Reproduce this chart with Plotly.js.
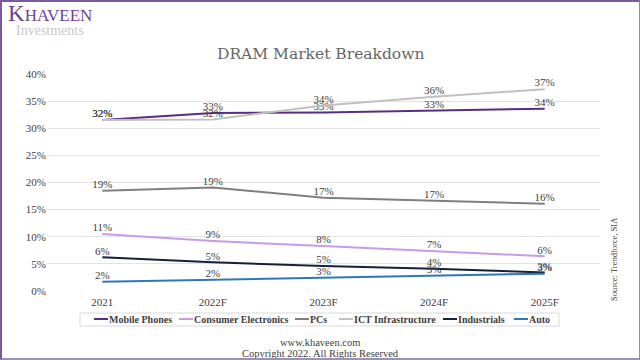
<!DOCTYPE html>
<html><head><meta charset="utf-8">
<script src="https://cdn.plot.ly/plotly-3.0.1.min.js"></script>
<style>
html,body{margin:0;padding:0;background:#fff;}
#wrap{position:relative;width:640px;height:360px;}
#chart{width:640px;height:360px;}
#frame{position:absolute;left:0;top:0;width:640px;height:360px;box-sizing:border-box;border-left:2px solid #7b5a9b;border-top:2px solid #7b5a9b;border-right:1px solid #9a86b0;border-bottom:2px solid #9a8fb5;pointer-events:none;}
</style></head>
<body>
<div id="wrap"><div id="chart"></div><div id="frame"></div></div>
<script>
const years = ["2021", "2022F", "2023F", "2024F", "2025F"];
const mobilePhones = [31.5, 32.8, 32.9, 33.2, 33.6];
const consumerElectronics = [10.5, 9.2, 8.3, 7.4, 6.4];
const pcs = [18.5, 19.1, 17.2, 16.6, 16.1];
const ictInfrastructure = [31.5, 31.6, 34.2, 35.8, 37.2];
const industrials = [6.2, 5.3, 4.6, 4.1, 3.4];
const auto = [1.7, 2.1, 2.5, 2.8, 3.2];
const yTicks = [0, 5, 10, 15, 20, 25, 30, 35, 40];
const seriesNames = ["Mobile Phones", "Consumer Electronics", "PCs", "ICT Infrastructure", "Industrials", "Auto"];
const seriesColors = ["#5a2d82", "#c79be6", "#7f7f7f", "#c0c0c0", "#14213d", "#2e78b7"];
const seriesValues = [mobilePhones, consumerElectronics, pcs, ictInfrastructure, industrials, auto];

const serif = "Liberation Serif, DejaVu Serif, serif";
const traces = seriesNames.map((name, i) => ({
  type: "scatter", mode: "lines+text", name: name, x: years, y: seriesValues[i],
  line: {color: seriesColors[i], width: 2},
  text: seriesValues[i].map(v => Math.round(v) + "%"),
  textposition: "top center",
  textfont: {family: serif, size: 11, color: "#404040"},
  cliponaxis: false, showlegend: false
}));

const W = 640, L = 47, R = 40, T = 74, B = 69;
const pw = W - L - R, ph = 360 - T - B;
const px = x => (x - L) / pw;
const py = y => (360 - B - y) / ph;

// custom legend layout (pixel positions of each entry's line start)
const legendStarts = [94, 179, 295, 339, 443, 514];
const legendY = 319;
const shapes = [
  {type: "rect", xref: "paper", yref: "paper", x0: px(80), x1: px(559), y0: py(313), y1: py(326),
   line: {color: "#d9d9d9", width: 1}, fillcolor: "rgba(0,0,0,0)"}
];
const annotations = [];
seriesNames.forEach((name, i) => {
  const x0 = legendStarts[i];
  shapes.push({type: "line", xref: "paper", yref: "paper", x0: px(x0), x1: px(x0 + 14),
    y0: py(legendY), y1: py(legendY), line: {color: seriesColors[i], width: 2}});
  annotations.push({text: "<b>" + name + "</b>", xref: "paper", yref: "paper",
    x: px(x0 + 14), y: py(legendY), xanchor: "left", yanchor: "middle", showarrow: false,
    font: {family: serif, size: 10, color: "#404040"}, borderpad: 0});
});

annotations.push(
  {text: "DRAM Market Breakdown", xref: "paper", yref: "paper", x: px(320), y: py(54),
   xanchor: "center", yanchor: "middle", showarrow: false,
   font: {family: "DejaVu Serif, serif", size: 15.5, color: "#666666"}},
  {text: "<span style='font-size:23px'>K</span>HAVEEN", xref: "paper", yref: "paper",
   x: px(6), y: py(13), xanchor: "left", yanchor: "middle", showarrow: false,
   font: {family: serif, size: 17, color: "#6e3f96"}},
  {text: "Investments", xref: "paper", yref: "paper", x: px(14), y: py(30),
   xanchor: "left", yanchor: "middle", showarrow: false,
   font: {family: serif, size: 14, color: "#c8c8c8"}},
  {text: "Source: Trendforce, SIA", xref: "paper", yref: "paper", x: px(614), y: py(259),
   xanchor: "center", yanchor: "middle", textangle: -90, showarrow: false,
   font: {family: serif, size: 8.5, color: "#404040"}},
  {text: "www.khaveen.com", xref: "paper", yref: "paper", x: px(320), y: py(342),
   xanchor: "center", yanchor: "middle", showarrow: false,
   font: {family: serif, size: 10.5, color: "#404040"}},
  {text: "Copyright 2022. All Rights Reserved", xref: "paper", yref: "paper", x: px(320), y: py(353),
   xanchor: "center", yanchor: "middle", showarrow: false,
   font: {family: serif, size: 10.5, color: "#404040"}}
);

const layout = {
  width: 640, height: 360,
  margin: {l: L, r: R, t: T, b: B},
  paper_bgcolor: "#fff", plot_bgcolor: "#fff",
  showlegend: false,
  xaxis: {type: "category", range: [-0.5, 4.5], tickmode: "array", tickvals: years, ticktext: years,
    showgrid: false, zeroline: false, showline: false, ticks: "", ticklabelstandoff: 3,
    tickfont: {family: serif, size: 11, color: "#404040"}},
  yaxis: {range: [0, 40], tickmode: "array", tickvals: yTicks, ticktext: yTicks.map(v => v + "%"),
    showgrid: true, gridcolor: "#e3e3e3", gridwidth: 1, zeroline: false, showline: false,
    tickfont: {family: serif, size: 11, color: "#404040"}, ticks: ""},
  shapes: shapes,
  annotations: annotations
};
Plotly.newPlot("chart", traces, layout, {displayModeBar: false, staticPlot: true});
</script>
</body></html>
